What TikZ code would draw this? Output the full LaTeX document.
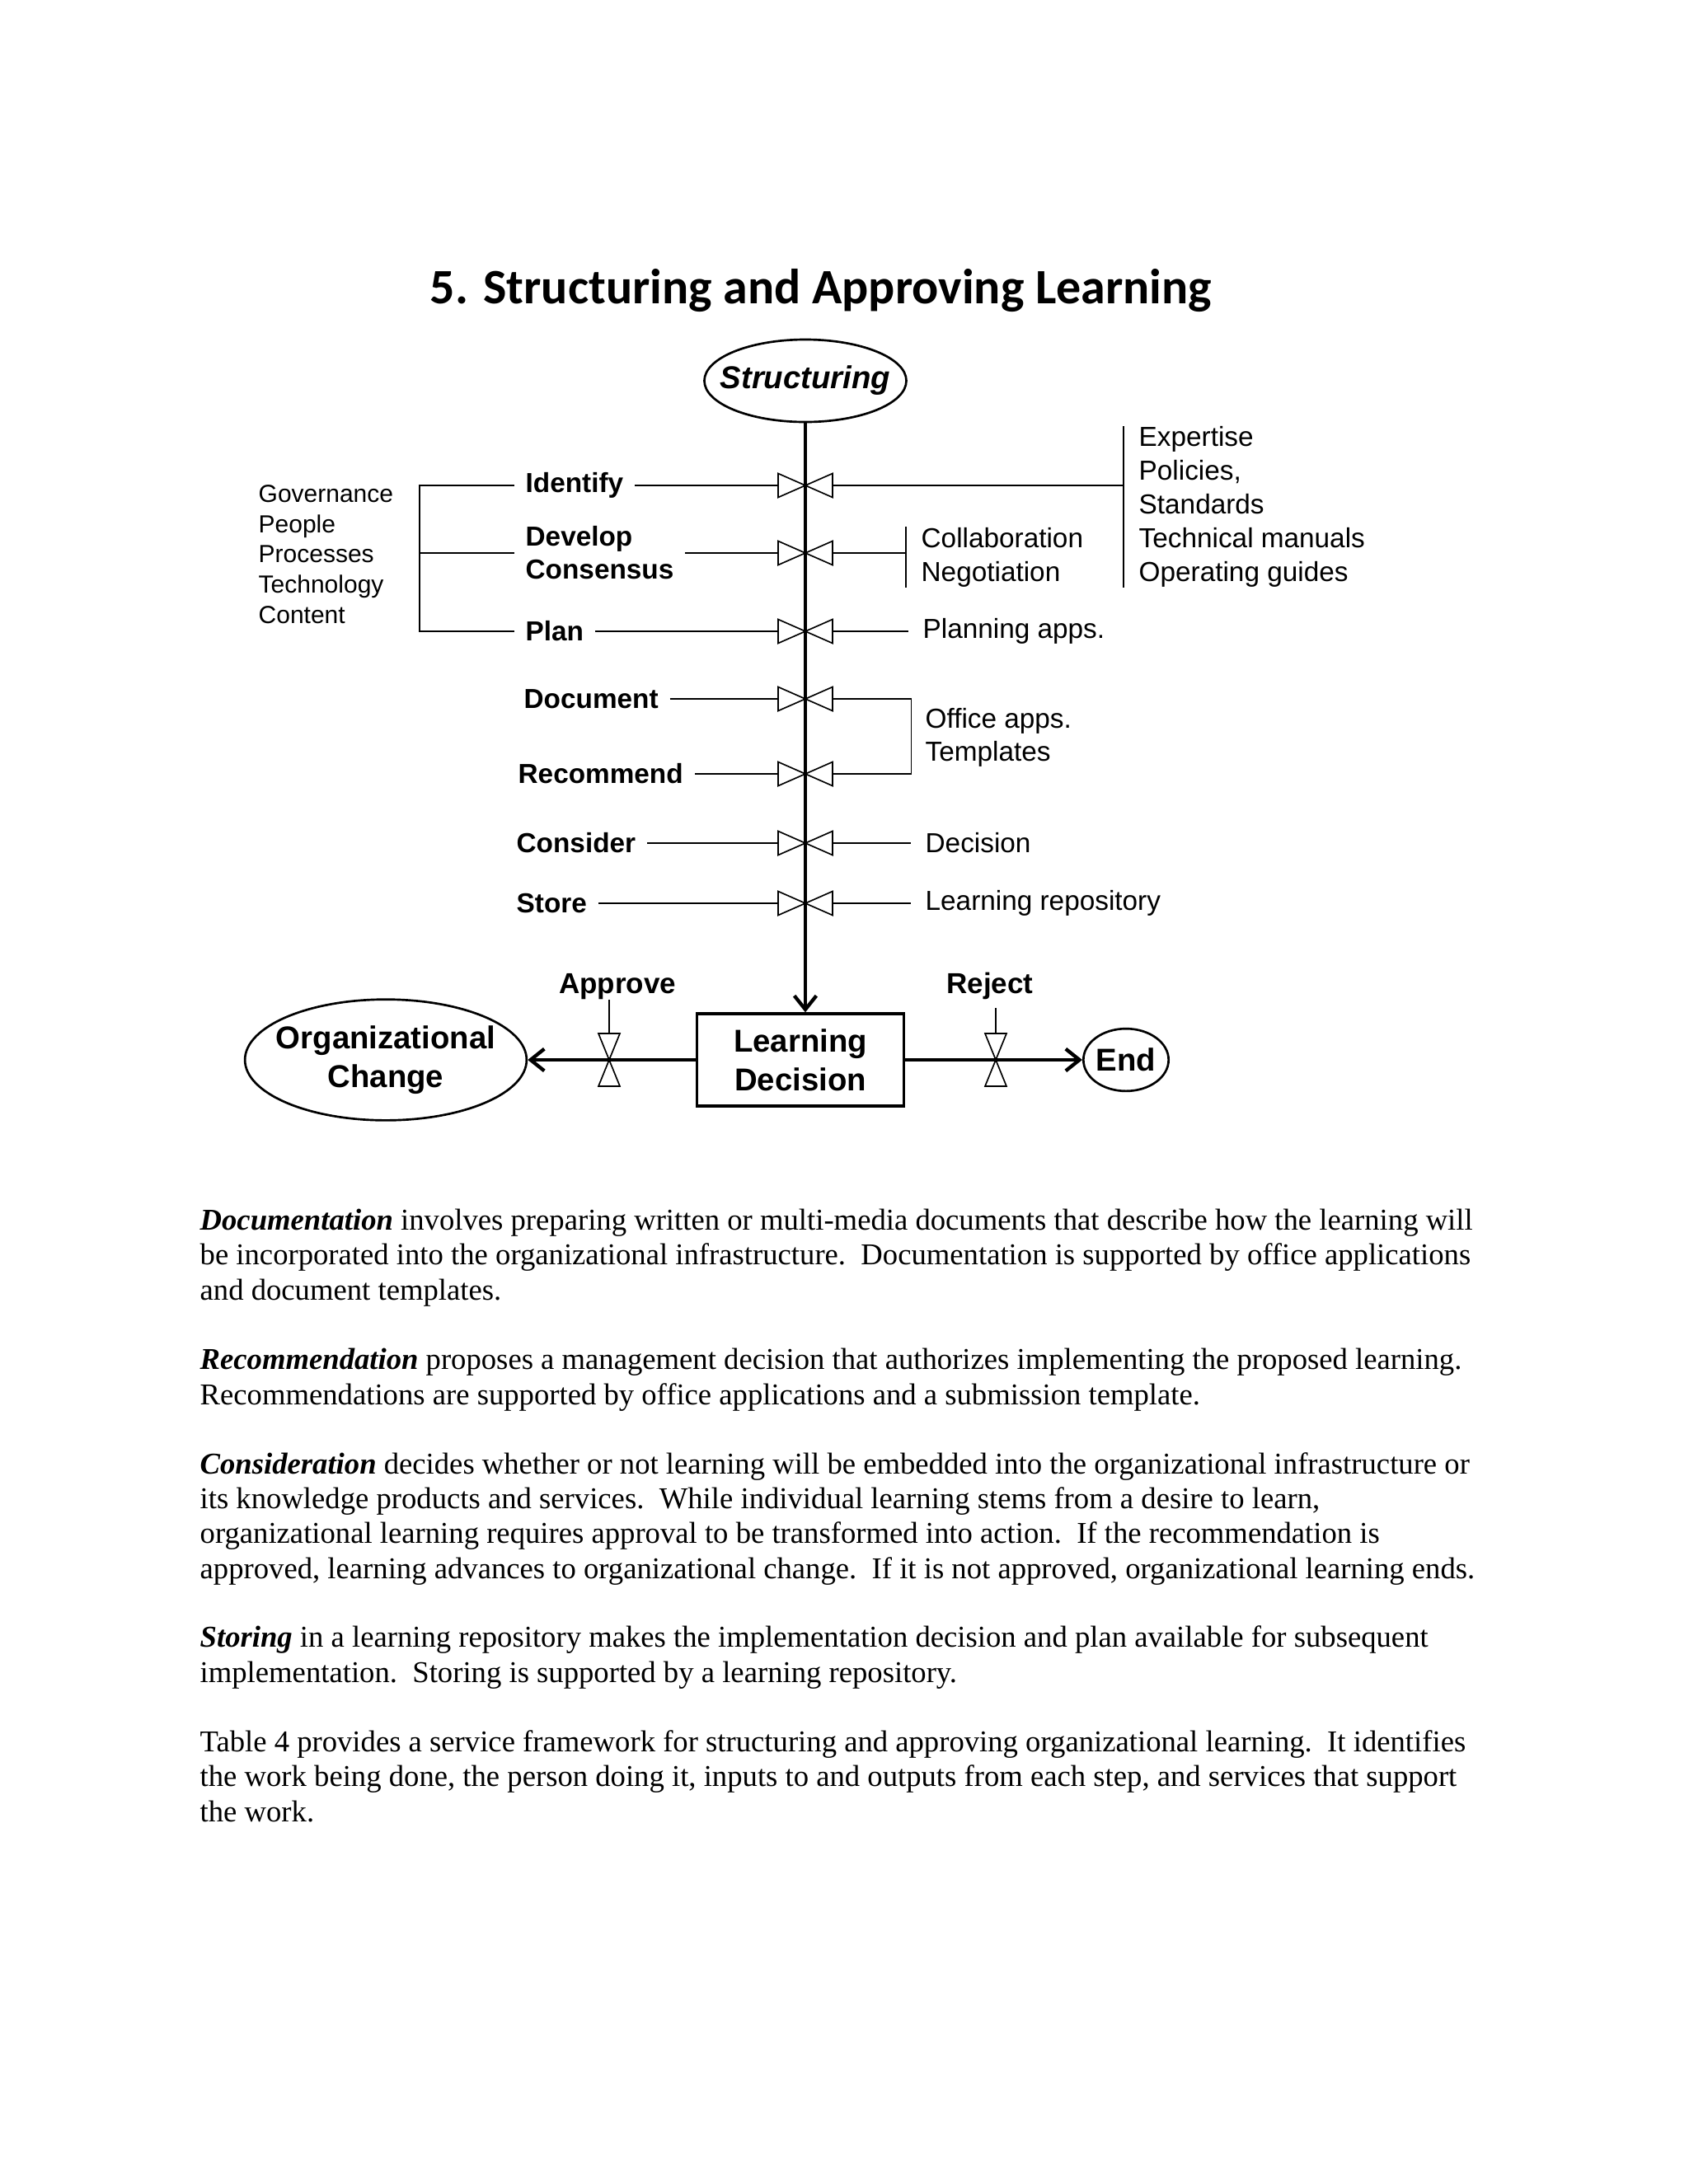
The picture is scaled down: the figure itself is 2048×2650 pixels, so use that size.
\documentclass[tikz,border=0pt]{standalone}
\usepackage{fontspec}
\setmainfont{Liberation Serif}
\newfontfamily\arialf{Liberation Sans}
\newfontfamily\calibrif{Carlito}
\usetikzlibrary{shapes.geometric,calc,arrows.meta}

% Valvulas (dos triangulos que se tocan en el punta)
\newcommand{\valvh}[1]{%
  \draw[fino] (#1) -- ++(-33,14.5) -- ++(0,-29) -- cycle
              (#1) -- ++(33,14.5) -- ++(0,-29) -- cycle;}
\newcommand{\valvv}[1]{%
  \draw[fino] (#1) -- ++(-13,-32) -- ++(26,0) -- cycle
              (#1) -- ++(-13,32) -- ++(26,0) -- cycle;}

\tikzset{
  fino/.style={line width=0.5pt},
  grueso/.style={line width=1.3pt},
  paso/.style={font=\arialf\bfseries\fontsize{10}{12}\selectfont,
    anchor=west, inner sep=0pt, align=left},
  apoyo/.style={font=\arialf\fontsize{10}{12.3}\selectfont,
    anchor=west, inner sep=0pt, align=left},
  etapa/.style={font=\arialf\bfseries\fontsize{11.5}{14}\selectfont,
    draw, line width=0.8pt, inner sep=0pt, align=center},
  etiqueta/.style={font=\arialf\bfseries\fontsize{10.5}{12}\selectfont,
    anchor=base, inner sep=0pt},
  parrafo/.style={font=\fontsize{11}{12.65}\selectfont,
    anchor=base west, inner sep=0pt, align=left},
}

\begin{document}
\begin{tikzpicture}[x=0.10542mm, y=-0.10542mm,
    >={Straight Barb[length=5pt,width=8pt]}]

    % Pagina
    \fill[white] (0,0) rectangle (2048,2650);

    % Titulo
    \node[font=\calibrif\bfseries\fontsize{18}{22}\selectfont, anchor=base,
      inner sep=0pt] (titulo) at (996,368) {5. Structuring and Approving Learning};

    % Etapas
    \node[etapa, ellipse, font=\arialf\bfseries\itshape\fontsize{11.5}{14}\selectfont,
      inner xsep=-5pt, minimum width=73pt, minimum height=30pt]
      (structuring) at (977,462) {Structuring};
    \node[etapa, rectangle, line width=1.1pt, minimum width=75.3pt,
      minimum height=33.5pt] (decision) at (971,1286) {Learning\\Decision};
    \node[etapa, ellipse, inner xsep=-4.3pt, minimum width=102.5pt,
      minimum height=44pt] (cambio) at (468,1286) {Organizational\\Change};
    \node[etapa, ellipse, minimum width=31pt, minimum height=22.7pt]
      (fin) at (1366,1286) {End};

    % Tronco
    \draw[grueso,->] (structuring) -- (structuring |- decision.north);

    \foreach \k/\y in {1/589, 2/671, 3/766, 4/848, 5/939, 6/1023, 7/1096}
      \coordinate (v\k) at (977,\y);
    \foreach \k in {1,...,7}
      \valvh{v\k};

    % Pasos
    \node[paso] (identify) at (637,589) {Identify};
    \node[paso] (develop) at (637,671) {Develop\\Consensus};
    \node[paso] (plan) at (637,766) {Plan};
    \node[paso] (document) at (635,848) {Document};
    \node[paso] (recommend) at (628,939) {Recommend};
    \node[paso] (consider) at (626,1023) {Consider};
    \node[paso] (store) at (626,1096) {Store};

    \foreach \nom/\k in {identify/1, develop/2, plan/3, document/4,
        recommend/5, consider/6, store/7}
      \draw[fino] ([xshift=4pt]\nom.east) -- ($(v\k)+(-33,0)$);

    % Areas de la organizacion
    \node[font=\arialf\fontsize{9}{11}\selectfont, anchor=north west,
      inner sep=0pt, align=left] (areas) at (313,588)
      {Governance\\People\\Processes\\Technology\\Content};
    \coordinate (llave) at (509,676);
    \draw[fino] ([xshift=-4pt]identify.west) -| (llave) |- ([xshift=-4pt]plan.west);
    \draw[fino] ([xshift=-4pt]develop.west) -- (develop.west -| llave);

    % Apoyos
    \node[apoyo, anchor=north west] (normas) at (1381,517)
      {Expertise\\Policies,\\Standards\\Technical manuals\\Operating guides};
    \node[apoyo] (colab) at (1117,676) {Collaboration\\Negotiation};
    \node[apoyo] (planning) at (1119,766) {Planning apps.};
    \node[apoyo, font=\arialf\fontsize{10}{12}\selectfont]
      (office) at (1122,895) {Office apps.\\Templates};
    \node[apoyo] (decisionapp) at (1122,1023) {Decision};
    \node[apoyo] (repositorio) at (1122,1096) {Learning repository};

    \draw[fino] ([xshift=-5.4pt]normas.north west) coordinate (n1)
      -- ([xshift=-5.4pt]normas.south west);
    \draw[fino] ($(v1)+(33,0)$) -- (v1 -| n1);
    \draw[fino] ([xshift=-5.4pt]colab.north west) coordinate (c1)
      -- ([xshift=-5.4pt]colab.south west);
    \draw[fino] ($(v2)+(33,0)$) -- (v2 -| c1);
    \draw[fino] ($(v4)+(33,0)$) -| ([xshift=-5pt]office.west) |- ($(v5)+(33,0)$);
    \foreach \nom/\k in {planning/3, decisionapp/6, repositorio/7}
      \draw[fino] ($(v\k)+(33,0)$) -- ([xshift=-5pt]\nom.west);

    % Decision
    \draw[grueso,->] (decision) -- (cambio);
    \draw[grueso,->] (decision) -- (fin);

    \coordinate (va) at (739,1286);
    \coordinate (vr) at (1208,1286);
    \valvv{va}
    \valvv{vr}
    \node[etiqueta] (approve) at (749,1205) {Approve};
    \node[etiqueta] (reject) at (1201,1205) {Reject};
    \draw[fino] (va |- approve.south) -- ($(va)+(0,-32)$);
    \draw[fino] ([yshift=-3pt]vr |- reject.south) -- ($(vr)+(0,-32)$);

    % Texto (el ancla base es la ultima linea)
    \node[parrafo] (p1) at (242,1577) {\textbf{\textit{Documentation}} involves preparing written or multi-media documents that describe how the learning will\\be incorporated into the organizational infrastructure.\ \ Documentation is supported by office applications\\and document templates.};
    \node[parrafo] (p2) at (242,1704) {\textbf{\textit{Recommendation}} proposes a management decision that authorizes implementing the proposed learning.\\Recommendations are supported by office applications and a submission template.};
    \node[parrafo] (p3) at (242,1915) {\textbf{\textit{Consideration}} decides whether or not learning will be embedded into the organizational infrastructure or\\its knowledge products and services.\ \ While individual learning stems from a desire to learn,\\organizational learning requires approval to be transformed into action.\ \ If the recommendation is\\approved, learning advances to organizational change.\ \ If it is not approved, organizational learning ends.};
    \node[parrafo] (p4) at (242,2041) {\textbf{\textit{Storing}} in a learning repository makes the implementation decision and plan available for subsequent\\implementation.\ \ Storing is supported by a learning repository.};
    \node[parrafo] (p5) at (242,2210) {Table 4 provides a service framework for structuring and approving organizational learning.\ \ It identifies\\the work being done, the person doing it, inputs to and outputs from each step, and services that support\\the work.};

\end{tikzpicture}
\end{document}
